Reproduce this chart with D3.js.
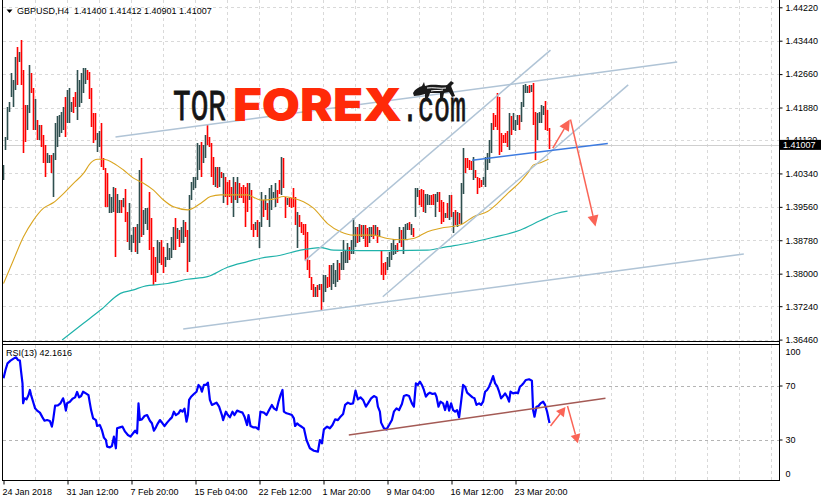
<!DOCTYPE html>
<html>
<head>
<meta charset="utf-8">
<script src="https://cdn.jsdelivr.net/npm/d3@7"></script>
<style>
  html, body { margin:0; padding:0; background:#fff; }
  svg { display:block; }
</style>
</head>
<body>
<svg id="chart" width="821" height="502"></svg>
<script>
// ---------------- DATA ----------------
const symbol = "GBPUSD,H4";
const quote = ["1.41400", "1.41412", "1.40901", "1.41007"];
const lastClose = 1.41007;
const rsiCaption = "RSI(13) 42.1616";
const priceTicks = [1.44220, 1.43440, 1.42660, 1.41880, 1.41120, 1.40340, 1.39560, 1.38780, 1.38000, 1.37240, 1.36460];
const rsiTicks = [100, 70, 30, 0];
const rsiLevels = [70, 30];
const timeLabels = ["24 Jan 2018", "31 Jan 12:00", "7 Feb 20:00", "15 Feb 04:00", "22 Feb 12:00", "1 Mar 20:00", "9 Mar 04:00", "16 Mar 12:00", "23 Mar 20:00"];
const timeLabelBars = [0, 32, 64, 96, 128, 160, 192, 224, 256];

const barHigh = [
1.4054,1.4120,1.4190,1.4202,1.4268,1.4252,1.4307,1.4330,1.4318,1.4346,
1.4276,1.4194,1.4194,1.4287,1.4268,1.4233,1.4209,1.4159,1.4147,1.4147,
1.4124,1.4100,1.4081,1.4077,1.4077,1.4081,1.4151,1.4167,1.4171,1.4178,
1.4190,1.4213,1.4229,1.4233,1.4202,1.4213,1.4225,1.4276,1.4252,1.4268,
1.4280,1.4280,1.4276,1.4272,1.4233,1.4174,1.4174,1.4128,1.4132,1.4151,
1.4069,1.4046,1.4034,1.3987,1.3980,1.4003,1.3999,1.3987,1.3972,1.3972,
1.3976,1.3997,1.3945,1.3964,1.3890,1.3910,1.3910,1.3917,1.4042,1.4069,
1.3949,1.3953,1.3953,1.3991,1.3929,1.3863,1.3840,1.3879,1.3875,1.3879,
1.3863,1.3840,1.3871,1.3859,1.3886,1.3910,1.3929,1.3906,1.3902,1.3910,
1.3925,1.3921,1.3902,1.3984,1.4015,1.4026,1.4026,1.4104,1.4100,1.4108,
1.4100,1.4124,1.4147,1.4120,1.4104,1.4073,1.4050,1.4050,1.4050,1.4038,
1.4034,1.4026,1.4015,1.4019,1.4003,1.4026,1.4015,1.4026,1.4011,1.4003,
1.4007,1.4003,1.4011,1.4011,1.3995,1.3917,1.3921,1.3925,1.3921,1.3991,
1.3972,1.3984,1.3964,1.3999,1.4007,1.3991,1.4011,1.3995,1.4019,1.4073,
1.4069,1.3980,1.3976,1.3976,1.3976,1.3999,1.3980,1.3945,1.3937,1.3921,
1.3917,1.3917,1.3898,1.3832,1.3793,1.3777,1.3770,1.3773,1.3777,1.3777,
1.3797,1.3797,1.3793,1.3820,1.3820,1.3824,1.3808,1.3832,1.3824,1.3851,
1.3879,1.3855,1.3871,1.3863,1.3879,1.3929,1.3910,1.3910,1.3917,1.3914,
1.3914,1.3914,1.3906,1.3910,1.3910,1.3914,1.3914,1.3910,1.3902,1.3855,
1.3824,1.3828,1.3840,1.3851,1.3871,1.3882,1.3867,1.3871,1.3910,1.3902,
1.3910,1.3917,1.3919,1.3921,1.3917,1.3906,1.3999,1.3999,1.3995,1.3997,
1.3995,1.3987,1.3987,1.3984,1.3984,1.3987,1.3987,1.3991,1.3991,1.3972,
1.3968,1.3941,1.3964,1.3984,1.3984,1.3945,1.3949,1.3945,1.3941,1.4011,
1.4093,1.4069,1.4069,1.4065,1.4062,1.4073,1.4042,1.4026,1.4023,1.4019,
1.4026,1.4073,1.4081,1.4112,1.4151,1.4174,1.4171,1.4221,1.4213,1.4128,
1.4124,1.4128,1.4132,1.4174,1.4167,1.4174,1.4159,1.4171,1.4171,1.4202,
1.4241,1.4244,1.4238,1.4241,1.4241,1.4246,1.4178,1.4174,1.4178,1.4194,
1.4192,1.4204,1.4182,1.41412
];
const barLow = [
1.4019,1.4089,1.4112,1.4178,1.4213,1.4190,1.4229,1.4241,1.4295,1.4241,
1.4081,1.4108,1.4135,1.4174,1.4221,1.4135,1.4135,1.4112,1.4112,1.4096,
1.4058,1.4026,1.4058,1.4058,1.4034,1.3980,1.4065,1.4096,1.4120,1.4128,
1.4135,1.4120,1.4151,1.4151,1.4178,1.4174,1.4190,1.4159,1.4190,1.4198,
1.4221,1.4244,1.4252,1.4209,1.4143,1.4104,1.4112,1.4085,1.4096,1.4050,
1.4042,1.3956,1.3956,1.3941,1.3941,1.3945,1.3840,1.3941,1.3941,1.3941,
1.3956,1.3921,1.3875,1.3855,1.3851,1.3871,1.3851,1.3847,1.3871,1.3886,
1.3890,1.3917,1.3902,1.3855,1.3797,1.3773,1.3781,1.3801,1.3824,1.3820,
1.3801,1.3816,1.3832,1.3832,1.3836,1.3855,1.3855,1.3882,1.3863,1.3871,
1.3871,1.3886,1.3805,1.3828,1.3972,1.3995,1.3999,1.4019,1.4042,1.4026,
1.4058,1.4069,1.4100,1.4096,1.4026,1.4007,1.4003,1.3999,1.4003,1.4023,
1.3964,1.3980,1.3960,1.3980,1.3964,1.3933,1.3972,1.3964,1.3976,1.3976,
1.3964,1.3910,1.3945,1.3972,1.3902,1.3886,1.3902,1.3886,1.3859,1.3910,
1.3933,1.3949,1.3925,1.3910,1.3949,1.3976,1.3956,1.3964,1.3987,1.3984,
1.3999,1.3929,1.3960,1.3956,1.3953,1.3956,1.3914,1.3859,1.3910,1.3894,
1.3890,1.3832,1.3808,1.3789,1.3762,1.3746,1.3746,1.3746,1.3762,1.3715,
1.3734,1.3758,1.3766,1.3770,1.3762,1.3777,1.3770,1.3781,1.3785,1.3808,
1.3808,1.3824,1.3824,1.3832,1.3847,1.3847,1.3863,1.3871,1.3875,1.3886,
1.3882,1.3863,1.3863,1.3871,1.3886,1.3882,1.3890,1.3871,1.3886,1.3797,
1.3785,1.3797,1.3808,1.3816,1.3832,1.3843,1.3847,1.3851,1.3871,1.3863,
1.3847,1.3882,1.3902,1.3902,1.3890,1.3886,1.3933,1.3980,1.3960,1.3956,
1.3945,1.3941,1.3960,1.3960,1.3960,1.3960,1.3933,1.3968,1.3945,1.3917,
1.3921,1.3929,1.3929,1.3925,1.3933,1.3894,1.3914,1.3910,1.3917,1.3917,
1.3987,1.4034,1.4046,1.4042,1.4042,1.4019,1.4023,1.3987,1.3999,1.4003,
1.4007,1.4003,1.4042,1.4058,1.4081,1.4135,1.4143,1.4135,1.4077,1.4085,
1.4104,1.4104,1.4096,1.4089,1.4124,1.4135,1.4132,1.4147,1.4135,1.4155,
1.4190,1.4221,1.4221,1.4221,1.4225,1.4147,1.4065,1.4112,1.4151,1.4151,
1.4171,1.4135,1.4132,1.40901
];
// u = bullish bar, d = bearish bar
const barDir = ("uuuuuuudud dduuddudud dduuduuuuu uduuudduuu uuddddduud ddduuuduud udduuuduud uuudddduud duuuuududu udduuuuuud " +
  "uuddddudud uddddududd dddudduduu duduuuuddu dduddddudd ddddddudud uudduuuudu uuuduuudud udduududud dduuuuudud " +
  "uuududuudd duuudduudd dududududu uddddudddd uuuuuddddd ddduduuudu uuududduuu uddd").replace(/ /g, "").split("");

// moving averages: [bar index, price]
const maFast = [[0,1.3777],[5,1.3832],[10,1.3886],[15,1.3925],[20,1.3953],[25,1.3966],[30,1.3987],[35,1.4011],[40,1.4034],[43.5,1.4058],
  [47,1.4067],[50,1.4067],[55,1.4058],[60,1.4042],[65,1.4023],[70,1.4011],[75,1.3995],[80,1.3972],[85,1.3956],[92,1.3949],
  [98.5,1.3964],[103.5,1.3980],[108.5,1.3984],[115,1.3984],[122,1.3984],[128.5,1.3972],[135,1.3974],[140,1.3980],[145,1.3976],[150,1.3968],
  [155,1.3953],[162,1.3917],[168.5,1.3898],[175,1.3890],[185,1.3890],[192,1.3882],[198.5,1.3879],[205,1.3882],[212,1.3898],[218.5,1.3906],
  [228.5,1.3914],[235,1.3933],[242,1.3945],[247,1.3964],[252,1.3987],[258.5,1.4015],[262,1.4034],[265,1.4054],[268.5,1.4059],[272.5,1.4067]];
const maSlow = [[29.3,1.3645],[40,1.3684],[48.5,1.3715],[58.5,1.3754],[65,1.3762],[70,1.3770],[82,1.3777],[92,1.3787],[102,1.3793],[112,1.3815],
  [122,1.3828],[128.5,1.3836],[138.5,1.3843],[148.5,1.3855],[158.5,1.3861],[165,1.3855],[178.5,1.3854],[195,1.3854],[212,1.3855],[222,1.3863],
  [232,1.3871],[245,1.3885],[258.5,1.3902],[268.5,1.3924],[277,1.3941],[282,1.3946]];

// RSI(13): [bar index, value]
const rsi = [
[0,75.3],[1,81.5],[2,86.4],[3.5,88.4],[5.2,90.1],[6.3,90.9],[7.2,88.9],[8.2,88.4],[8.8,80.2],[9.5,71.6],
[9.8,56.8],[10.5,60.5],[11.5,59.7],[12.5,62.9],[13.2,66.7],[13.8,62.9],[14.8,58.0],[15.8,53.1],[16.8,51.4],[18.2,49.9],
[19.5,46.4],[20.5,43.9],[21.8,44.4],[23.2,43.7],[24.2,39.5],[24.8,44.4],[25.8,55.1],[27.2,55.3],[28.5,56.8],[29.8,60.5],
[30.5,56.8],[31.2,51.4],[31.8,56.8],[33.2,58.0],[34.5,60.2],[35.8,61.2],[36.8,65.2],[37.8,61.2],[38.8,62.2],[39.8,65.4],
[41.2,64.2],[42.5,62.9],[43.2,56.8],[43.8,51.8],[44.8,45.7],[46.2,44.4],[46.8,40.0],[48.2,40.7],[49.2,37.0],[50.2,31.4],
[51.2,29.6],[51.8,24.7],[53.2,24.2],[54.2,25.2],[55.2,32.1],[56.2,23.5],[56.8,38.3],[58.2,39.0],[59.5,39.5],[60.8,35.8],
[62.2,33.3],[63.5,32.1],[64.8,34.6],[65.8,36.5],[66.8,34.6],[67.5,56.8],[68.2,44.4],[69.2,44.9],[70.5,47.4],[71.8,48.1],
[73.2,43.9],[74.2,42.0],[75.2,36.5],[76.2,39.0],[77.2,42.0],[78.2,44.4],[79.5,42.0],[80.5,40.0],[81.8,42.5],[83.2,44.9],
[84.2,46.4],[85.2,50.6],[86.2,48.1],[87.5,49.4],[88.5,51.8],[89.5,50.6],[90.5,52.8],[91.5,43.2],[92.2,48.1],[92.8,59.3],
[93.8,61.7],[95.2,63.7],[96.5,65.4],[97.5,70.4],[98.5,68.6],[99.2,65.4],[100.2,70.4],[101.2,70.4],[102.2,72.1],[103.2,59.3],
[104.2,55.6],[105.2,56.3],[106.5,57.3],[107.8,54.3],[109.2,48.1],[109.8,44.4],[111.2,50.6],[112.2,48.1],[113.2,46.4],[114.5,50.6],
[115.5,48.1],[116.8,51.4],[118.2,50.6],[119.5,49.9],[120.5,46.9],[121.8,40.7],[122.5,48.1],[123.5,40.0],[124.8,39.0],[126.2,39.0],
[127.5,37.5],[128.5,50.6],[130.2,49.9],[131.5,48.1],[132.8,51.8],[134.2,55.6],[135.2,53.1],[136.5,51.8],[137.5,58.0],[138.5,62.9],
[139.5,66.7],[140.2,50.6],[141.5,49.4],[142.8,48.9],[144.2,48.1],[145.2,45.7],[145.8,40.0],[146.8,42.0],[147.8,40.7],
[148.5,40.0],[150.2,38.3],[151.5,29.6],[153.2,23.5],[155.2,21.7],[157.2,21.0],[158.2,29.6],[159.2,27.2],[160.2,37.5],[161.8,39.5],
[163.2,38.3],[164.5,40.7],[165.8,44.9],[167.2,44.4],[168.5,46.9],[169.8,48.9],[170.8,55.6],[172.2,57.3],[173.5,56.3],[174.8,56.8],
[176,66.2],[177.2,59.7],[178.5,61.2],[179.8,59.3],[181.2,54.3],[182.5,57.3],[183.8,60.5],[185.2,62.2],[186.5,61.2],[187.2,54.3],
[188.2,50.6],[188.8,42.5],[190.2,38.3],[191.5,37.5],[192.8,40.7],[194.2,44.4],[195.2,50.6],[196.5,53.1],[197.8,51.8],[199.2,56.3],
[200.2,62.2],[201.5,62.9],[202.8,62.2],[204.2,56.8],[205.2,54.3],[206.2,71.6],[207.2,70.4],[208.2,72.9],[209.2,70.4],[210.2,66.7],
[211.2,61.7],[212.2,63.7],[213.2,64.7],[214.5,63.7],[215.8,64.2],[216.5,61.7],[217.5,54.3],[218.5,58.0],[219.8,56.8],[220.8,51.8],
[221.8,58.0],[222.8,51.4],[223.8,56.8],[224.8,51.8],[225.8,50.6],[226.8,51.8],[227.8,46.4],[228.8,58.0],[229.8,70.4],[230.8,69.1],
[231.8,64.7],[233.2,62.9],[234.5,61.2],[235.5,60.5],[236.5,55.6],[237.8,56.8],[238.8,55.6],[239.8,58.0],[240.8,65.4],[241.8,66.7],
[242.8,69.1],[243.8,72.9],[244.8,77.0],[245.8,71.6],[246.8,69.6],[247.8,65.4],[248.8,60.5],[249.8,62.2],[250.8,64.2],[251.8,61.7],
[252.8,58.0],[253.5,65.4],[254.8,64.2],[256.2,64.7],[257.2,64.2],[258.2,69.1],[259.2,70.4],[260.2,72.1],[261.2,74.1],[262.8,74.6],
[264.2,73.6],[264.8,51.8],[265.5,46.9],[266.5,54.3],[267.5,54.8],[268.5,56.8],[269.8,58.0],[270.8,55.6],[271.8,50.6],[273,42.2]
];

// analysis objects: [bar index, price] / [bar index, rsi]
const channelLines = [
  [[56, 1.4119], [336.85, 1.4294]],
  [[89.85, 1.3671], [370.15, 1.3846]],
  [[150.65, 1.3830], [273.5, 1.4322]],
  [[189.65, 1.3746], [312.35, 1.4241]]
];
const supportLine = [[234.35, 1.4065], [302.15, 1.4104]];
const priceArrows = [
  [[274.65, 1.4093], [283.15, 1.4160]],
  [[283.5, 1.4160], [296, 1.3910]]
];
const rsiTrend = [[172.65, 33.3], [301, 60.5]];
const rsiArrows = [
  [[273.5, 40.0], [281, 54.1]],
  [[282, 54.8], [287.2, 27.2]]
];

// ---------------- LAYOUT ----------------
const FONT = "'Liberation Sans', Arial, sans-serif";
const svg = d3.select("#chart");
const LEFT = 2.5, RIGHT = 779.5, MAIN_BOTTOM = 341.5, RSI_TOP = 344.5, RSI_BOTTOM = 480.5;
const BAR_STEP = 2, BAR_WIDTH = 1.6;
const UP_COLOR = "#2f4f4f", DOWN_COLOR = "#ff0000";

const x = d3.scaleLinear().domain([0, 1]).range([3.5, 3.5 + BAR_STEP]);
const y = d3.scaleLinear().domain([priceTicks[priceTicks.length - 1], priceTicks[0]]).range([339.6, 7.3]);
const yR = d3.scaleLinear().domain([0, 100]).range([480, 345]);

svg.append("rect").attr("width", 821).attr("height", 502).attr("fill", "#fff");

const defs = svg.append("defs");
defs.append("clipPath").attr("id", "clipMain").append("rect")
  .attr("x", LEFT).attr("y", 0).attr("width", RIGHT - LEFT).attr("height", MAIN_BOTTOM);
defs.append("clipPath").attr("id", "clipRsi").append("rect")
  .attr("x", LEFT).attr("y", RSI_TOP).attr("width", RIGHT - LEFT).attr("height", RSI_BOTTOM - RSI_TOP);

const main = svg.append("g").attr("clip-path", "url(#clipMain)");
const rsiG = svg.append("g").attr("clip-path", "url(#clipRsi)");

// vertical grid lines (every 16 bars)
const gridBars = d3.range(16, 400, 16).filter(i => x(i) < RIGHT - 2);
[[main, 0, MAIN_BOTTOM], [rsiG, RSI_TOP, RSI_BOTTOM]].forEach(([g, t, b]) => {
  g.append("g").selectAll("line").data(gridBars).join("line")
    .attr("x1", d => x(d)).attr("x2", d => x(d))
    .attr("y1", t).attr("y2", b)
    .attr("stroke", "#d9d9d9").attr("stroke-dasharray", "3,3").attr("shape-rendering", "crispEdges");
});
// horizontal grid at price ticks
main.append("g").selectAll("line").data(priceTicks).join("line")
  .attr("x1", LEFT).attr("x2", RIGHT)
  .attr("y1", d => Math.round(y(d)) + 0.5).attr("y2", d => Math.round(y(d)) + 0.5)
  .attr("stroke", "#d9d9d9").attr("stroke-dasharray", "3,3").attr("shape-rendering", "crispEdges");
// RSI levels
rsiG.append("g").selectAll("line").data(rsiLevels).join("line")
  .attr("x1", LEFT).attr("x2", RIGHT)
  .attr("y1", d => Math.round(yR(d)) + 0.5).attr("y2", d => Math.round(yR(d)) + 0.5)
  .attr("stroke", "#b4b4b4").attr("stroke-dasharray", "3,3").attr("shape-rendering", "crispEdges");

// current price line
main.append("line").attr("x1", LEFT).attr("x2", RIGHT)
  .attr("y1", Math.round(y(lastClose)) + 0.5).attr("y2", Math.round(y(lastClose)) + 0.5)
  .attr("stroke", "#cfcfcf").attr("shape-rendering", "crispEdges");

// high-low bars
const bars = barHigh.map((h, i) => ({ i, h, l: barLow[i], up: barDir[i] === "u" }));
main.append("g").attr("class", "bars").selectAll("rect").data(bars).join("rect")
  .attr("x", d => x(d.i) - BAR_WIDTH / 2)
  .attr("width", BAR_WIDTH)
  .attr("y", d => Math.round(y(d.h)))
  .attr("height", d => Math.max(2, Math.round(y(d.l)) - Math.round(y(d.h))))
  .style("fill", d => d.up ? UP_COLOR : DOWN_COLOR);

// moving averages
const maLine = d3.line().x(d => x(d[0])).y(d => y(d[1])).curve(d3.curveMonotoneX);
main.append("path").attr("d", maLine(maSlow)).attr("fill", "none").attr("stroke", "#20b2aa").attr("stroke-width", 1.2);
main.append("path").attr("d", maLine(maFast)).attr("fill", "none").attr("stroke", "#daa520").attr("stroke-width", 1.1);

// channel lines
main.append("g").selectAll("line").data(channelLines).join("line")
  .attr("x1", d => x(d[0][0])).attr("y1", d => y(d[0][1]))
  .attr("x2", d => x(d[1][0])).attr("y2", d => y(d[1][1]))
  .attr("stroke", "#b0c4d6").attr("stroke-width", 1.5);
main.append("line")
  .attr("x1", x(supportLine[0][0])).attr("y1", y(supportLine[0][1]))
  .attr("x2", x(supportLine[1][0])).attr("y2", y(supportLine[1][1]))
  .attr("stroke", "#3d7be0").attr("stroke-width", 1.5);

function arrow(g, p0, p1, color, len, half) {
  const dx = p1[0] - p0[0], dy = p1[1] - p0[1];
  const dist = Math.hypot(dx, dy), ux = dx / dist, uy = dy / dist;
  const bx = p1[0] - ux * len, by = p1[1] - uy * len;
  g.append("line").attr("x1", p0[0]).attr("y1", p0[1]).attr("x2", bx).attr("y2", by)
    .attr("stroke", color).attr("stroke-width", 1.5);
  g.append("path").attr("d", `M${p1[0]},${p1[1]}L${bx - uy * half},${by + ux * half}L${bx + uy * half},${by - ux * half}Z`)
    .attr("fill", color);
}
priceArrows.forEach(a => arrow(main, [x(a[0][0]), y(a[0][1])], [x(a[1][0]), y(a[1][1])], "#fa6456", 11, 5.5));

// RSI
rsiG.append("path").attr("d", d3.line().x(d => x(d[0])).y(d => yR(d[1]))(rsi))
  .attr("fill", "none").attr("stroke", "#0000ff").attr("stroke-width", 2.2).attr("stroke-linejoin", "round");
rsiG.append("line")
  .attr("x1", x(rsiTrend[0][0])).attr("y1", yR(rsiTrend[0][1]))
  .attr("x2", x(rsiTrend[1][0])).attr("y2", yR(rsiTrend[1][1]))
  .attr("stroke", "#a45a55").attr("stroke-width", 1.5);
rsiArrows.forEach(a => arrow(rsiG, [x(a[0][0]), yR(a[0][1])], [x(a[1][0]), yR(a[1][1])], "#fa6456", 9, 5));

// logo
const logo = main.append("g");
logo.append("text").attr("x", 173).attr("y", 120).text("TOR")
  .attr("font-family", "'Liberation Mono','DejaVu Sans Mono',monospace").attr("font-size", 45)
  .attr("textLength", 53).attr("lengthAdjust", "spacingAndGlyphs")
  .attr("fill", "#151515").attr("stroke", "#151515").attr("stroke-width", 0.8);
logo.append("text").attr("x", 233).attr("y", 121).text("FOREX")
  .attr("font-family", "Inter, Lato, Roboto, sans-serif").attr("font-weight", 900).attr("font-size", 46)
  .attr("textLength", 169).attr("lengthAdjust", "spacingAndGlyphs").attr("fill", "#ff2a08");
logo.append("text").attr("x", 402).attr("y", 121).text(".com")
  .attr("font-family", "'Liberation Mono','DejaVu Sans Mono',monospace").attr("font-size", 42)
  .attr("textLength", 64).attr("lengthAdjust", "spacingAndGlyphs")
  .attr("fill", "#151515").attr("stroke", "#151515").attr("stroke-width", 0.8);
logo.append("path").attr("transform", "translate(413,81)")
  .attr("d", "M0,12 C2,8 6,6 9,5 L11,1 L12,5 L16,4 C22,3 30,5 34,4 L38,0 L41,2 L38,5 L40,10 L42,15 L39,16 L36,11 L31,12 L30,17 L27,17 L27,12 L17,12 L15,17 L12,17 L12,13 C8,14 4,15 1,15 Z")
  .attr("fill", "#1a1a1a");
logo.append("path").attr("transform", "translate(413,81)")
  .attr("d", "M14,7 C20,6 28,8 33,7 M18,10 C22,9 26,10 30,9")
  .attr("fill", "none").attr("stroke", "#fff").attr("stroke-width", 1);

// frame
const frame = svg.append("g").attr("stroke", "#000").attr("shape-rendering", "crispEdges");
frame.append("line").attr("x1", LEFT).attr("x2", LEFT).attr("y1", 0).attr("y2", RSI_BOTTOM);
frame.append("line").attr("x1", RIGHT).attr("x2", RIGHT).attr("y1", 0).attr("y2", RSI_BOTTOM);
frame.append("line").attr("x1", LEFT).attr("x2", RIGHT).attr("y1", MAIN_BOTTOM).attr("y2", MAIN_BOTTOM);
frame.append("line").attr("x1", LEFT).attr("x2", RIGHT).attr("y1", RSI_TOP).attr("y2", RSI_TOP);
frame.append("line").attr("x1", LEFT).attr("x2", RIGHT).attr("y1", RSI_BOTTOM).attr("y2", RSI_BOTTOM);

function styleAxis(g) {
  g.select(".domain").remove();
  g.selectAll("text").attr("font-family", FONT).attr("font-size", 9).attr("fill", "#000");
  g.selectAll("line").attr("stroke", "#000");
}

// price axis
svg.append("g").attr("transform", `translate(${RIGHT},0)`)
  .call(d3.axisRight(y).tickValues(priceTicks).tickFormat(d3.format(".5f")).tickSize(3).tickPadding(3))
  .call(styleAxis);

// RSI axis
const rAxis = svg.append("g").attr("transform", `translate(${RIGHT},0)`)
  .call(d3.axisRight(yR).tickValues(rsiTicks).tickFormat(d3.format("d")).tickSize(3).tickPadding(3))
  .call(styleAxis);
rAxis.selectAll(".tick").filter(d => d === 100).select("text").attr("dy", "1.0em");
rAxis.selectAll(".tick").filter(d => d === 0).select("text").attr("dy", "-0.35em");
rAxis.selectAll(".tick").filter(d => d === 100 || d === 0).select("line").remove();

// time axis
const tAxis = svg.append("g").attr("transform", `translate(0,${RSI_BOTTOM})`)
  .call(d3.axisBottom(x).tickValues(timeLabelBars).tickFormat((d, i) => timeLabels[i]).tickSize(4).tickPadding(4))
  .call(styleAxis);
tAxis.selectAll("text").attr("text-anchor", "start").attr("dx", -1.5);

// current price tag (covers part of the 1.41120 grid label, as in the terminal)
const tagY = y(lastClose);
svg.append("rect").attr("x", 780).attr("y", tagY - 5).attr("width", 41).attr("height", 10).attr("fill", "#000");
svg.append("text").attr("x", 783).attr("y", tagY + 3.3).text(d3.format(".5f")(lastClose))
  .attr("font-family", FONT).attr("font-size", 9).attr("fill", "#fff");

// title
svg.append("path").attr("d", "M6.5,9.5L12.5,9.5L9.5,13Z").attr("fill", "#000");
svg.append("text").attr("x", 17).attr("y", 13.5).attr("xml:space", "preserve").style("white-space", "pre")
  .text(symbol + "  " + quote.join(" "))
  .attr("font-family", FONT).attr("font-size", 9).attr("fill", "#000");
svg.append("text").attr("x", 6).attr("y", 355.5).text(rsiCaption)
  .attr("font-family", FONT).attr("font-size", 9).attr("fill", "#000");
</script>
</body>
</html>
